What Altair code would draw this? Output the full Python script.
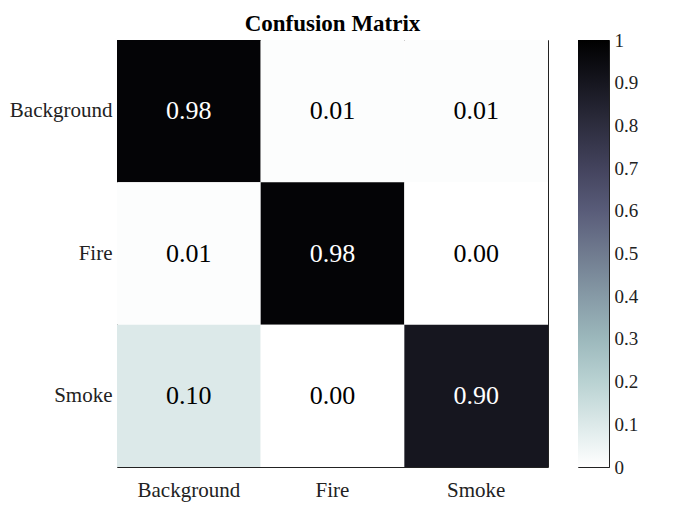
import altair as alt
import pandas as pd

classes = ["Background", "Fire", "Smoke"]
true_labels = ["Background", "Background", "Background",
               "Fire", "Fire", "Fire",
               "Smoke", "Smoke", "Smoke"]
pred_labels = ["Background", "Fire", "Smoke",
               "Background", "Fire", "Smoke",
               "Background", "Fire", "Smoke"]
values = [0.98, 0.01, 0.01,
          0.01, 0.98, 0.00,
          0.10, 0.00, 0.90]
colorbar_ticks = [0, 0.1, 0.2, 0.3, 0.4, 0.5, 0.6, 0.7, 0.8, 0.9, 1]
# bone_r colormap samples (0 -> 1)
cmap = ["#ffffff", "#dce9e9", "#b9d2d2", "#9cb8bc", "#869aa6", "#707b8f",
        "#595c79", "#43435d", "#2d2d3e", "#16161f", "#000000"]

df = pd.DataFrame({"true": true_labels, "pred": pred_labels, "value": values})
df["label"] = [f"{v:.2f}" for v in values]

FONT = "Liberation Serif, Times New Roman, DejaVu Serif, serif"

x = alt.X("pred:N", sort=classes, title=None,
          scale=alt.Scale(paddingInner=0, paddingOuter=0),
          axis=alt.Axis(labelAngle=0, domain=False, ticks=False, labelPadding=12,
                        labelFont=FONT, labelFontSize=21, labelColor="#222"))
y = alt.Y("true:N", sort=classes, title=None,
          scale=alt.Scale(paddingInner=0, paddingOuter=0),
          axis=alt.Axis(domain=False, ticks=False, labelPadding=5,
                        labelFont=FONT, labelFontSize=21, labelColor="#222"))

rect = alt.Chart(df).mark_rect().encode(
    x=x, y=y,
    color=alt.Color("value:Q",
                    scale=alt.Scale(domain=[0, 1], range=cmap, interpolate="rgb"),
                    legend=None),
)

text = alt.Chart(df).mark_text(font=FONT, fontSize=26).encode(
    x=alt.X("pred:N", sort=classes),
    y=alt.Y("true:N", sort=classes),
    text="label:N",
    color=alt.condition(alt.datum.value > 0.5, alt.value("white"), alt.value("black")),
)

main = (rect + text).properties(
    width=431, height=427,
    title=alt.TitleParams("Confusion Matrix", font=FONT, fontSize=23, fontWeight="bold",
                          color="black", offset=4, anchor="middle", frame="group"),
)

# colorbar
cb_df = pd.DataFrame({"lo": [0.0], "hi": [1.0]})
gradient = alt.LinearGradient(
    gradient="linear", x1=0, y1=1, x2=0, y2=0,
    stops=[alt.GradientStop(offset=i / (len(cmap) - 1), color=c) for i, c in enumerate(cmap)],
)
colorbar = alt.Chart(cb_df).mark_rect(color=gradient).encode(
    y=alt.Y("lo:Q", title=None,
            scale=alt.Scale(domain=[0, 1], nice=False, zero=False),
            axis=alt.Axis(orient="right", values=colorbar_ticks, format=".1~f",
                          domain=False, grid=False, tickSize=4, offset=-4,
                          tickColor="#222", labelPadding=5, labelFlush=False,
                          labelFont=FONT, labelFontSize=19, labelColor="#222")),
    y2="hi:Q",
).properties(width=31, height=427)

chart = alt.hconcat(main, colorbar, spacing=28).properties(
    padding={"left": 0, "top": 4, "right": 5, "bottom": 5},
).configure_view(stroke="#222", strokeWidth=1)

chart.save("out.html", embed_options={"renderer": "svg", "actions": False})
